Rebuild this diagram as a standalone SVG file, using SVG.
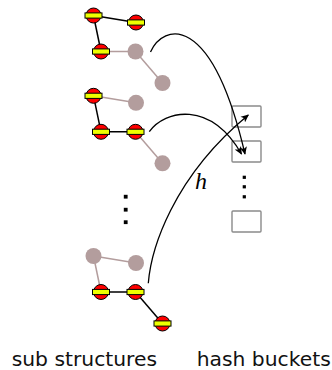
<svg xmlns="http://www.w3.org/2000/svg" width="332" height="370" viewBox="0 0 332 370">
  <style>
    .ok { fill: #ff0000; stroke: #000; stroke-width: 1; }
    .bar { fill: #eeff00; stroke: #000; stroke-width: 1; }
    .off { fill: #b39d9d; }
    .e-on { stroke: #000; stroke-width: 1.5; fill: none; }
    .e-off { stroke: #b39d9d; stroke-width: 1.5; fill: none; }
    .bucket { fill: #fff; stroke: #8a8a8a; stroke-width: 1.4; }
    .dot { fill: #000; }
    .arc { stroke: #000; stroke-width: 1.3; fill: none; marker-end: url(#head); }
    .label { font-family: "DejaVu Sans", sans-serif; font-size: 20.3px; fill: #111; }
    .math { font-family: "Liberation Serif", serif; font-style: italic; font-size: 24px; fill: #000; }
  </style>
  <defs>
    <symbol id="on" overflow="visible">
      <circle class="ok" r="7.5"/>
      <rect class="bar" x="-8.5" y="-2.6" width="17" height="5.2"/>
    </symbol>
    <symbol id="offn" overflow="visible">
      <circle class="off" r="8"/>
    </symbol>
    <marker id="head" viewBox="0 0 10 10" refX="9" refY="5" markerWidth="8" markerHeight="8" markerUnits="userSpaceOnUse" orient="auto">
      <path d="M0,0.5 L10,5 L0,9.5 L2.5,5 Z" fill="#000"/>
    </marker>
  </defs>

  <!-- sub structure 1 -->
  <g id="sub1">
    <line class="e-on" x1="93.5" y1="15.5" x2="136" y2="22.5"/>
    <line class="e-on" x1="93.5" y1="15.5" x2="101" y2="51.5"/>
    <line class="e-off" x1="101" y1="51.5" x2="135.5" y2="51.5"/>
    <line class="e-off" x1="135.5" y1="51.5" x2="162.5" y2="83"/>
    <use href="#offn" x="135.5" y="51.5"/>
    <use href="#offn" x="162.5" y="83"/>
    <use href="#on" x="93.5" y="15.5"/>
    <use href="#on" x="136" y="22.5"/>
    <use href="#on" x="101" y="51.5"/>
  </g>

  <!-- sub structure 2 -->
  <g id="sub2" transform="translate(0,80.3)">
    <line class="e-off" x1="93.5" y1="15.5" x2="136" y2="22.5"/>
    <line class="e-on" x1="93.5" y1="15.5" x2="101" y2="51.5"/>
    <line class="e-on" x1="101" y1="51.5" x2="135.5" y2="51.5"/>
    <line class="e-off" x1="135.5" y1="51.5" x2="162.5" y2="83"/>
    <use href="#offn" x="136" y="22.5"/>
    <use href="#offn" x="162.5" y="83"/>
    <use href="#on" x="93.5" y="15.5"/>
    <use href="#on" x="101" y="51.5"/>
    <use href="#on" x="135.5" y="51.5"/>
  </g>

  <!-- sub structure 3 -->
  <g id="sub3" transform="translate(0,240.5)">
    <line class="e-off" x1="93.5" y1="15.5" x2="136" y2="22.5"/>
    <line class="e-off" x1="93.5" y1="15.5" x2="101" y2="51.5"/>
    <line class="e-on" x1="101" y1="51.5" x2="135.5" y2="51.5"/>
    <line class="e-on" x1="135.5" y1="51.5" x2="162.5" y2="83"/>
    <use href="#offn" x="93.5" y="15.5"/>
    <use href="#offn" x="136" y="22.5"/>
    <use href="#on" x="101" y="51.5"/>
    <use href="#on" x="135.5" y="51.5"/>
    <use href="#on" x="162.5" y="83"/>
  </g>

  <!-- vertical ellipsis between structures -->
  <g id="sub-dots">
    <rect class="dot" x="123.8" y="194.8" width="3.8" height="3.8"/>
    <rect class="dot" x="123.8" y="207.8" width="3.8" height="3.8"/>
    <rect class="dot" x="123.8" y="220.3" width="3.8" height="3.8"/>
  </g>

  <!-- hash buckets -->
  <g id="bucket1"><rect class="bucket" x="232" y="106" width="29" height="21" rx="1"/></g>
  <g id="bucket2"><rect class="bucket" x="232" y="141" width="29" height="21" rx="1"/></g>
  <g id="bucket-dots">
    <rect class="dot" x="242.7" y="175.7" width="3.2" height="3.2"/>
    <rect class="dot" x="242.7" y="185.2" width="3.2" height="3.2"/>
    <rect class="dot" x="242.7" y="195.2" width="3.2" height="3.2"/>
  </g>
  <g id="bucket3"><rect class="bucket" x="232" y="211" width="29" height="21" rx="1"/></g>

  <!-- hash mapping arcs -->
  <g id="connectors">
    <path class="arc" d="M150.5,52 C163,24 211,10 245,154"/>
    <path class="arc" d="M149.3,131.7 C165,110 210,100 241.5,154"/>
    <path class="arc" d="M148.3,283.3 C151,250 172,178 248.3,115"/>
  </g>

  <text class="math" x="195" y="189">h</text>
  <text class="label" x="11.7" y="365.5">sub structures</text>
  <text class="label" x="196.7" y="365.5">hash buckets</text>
</svg>
